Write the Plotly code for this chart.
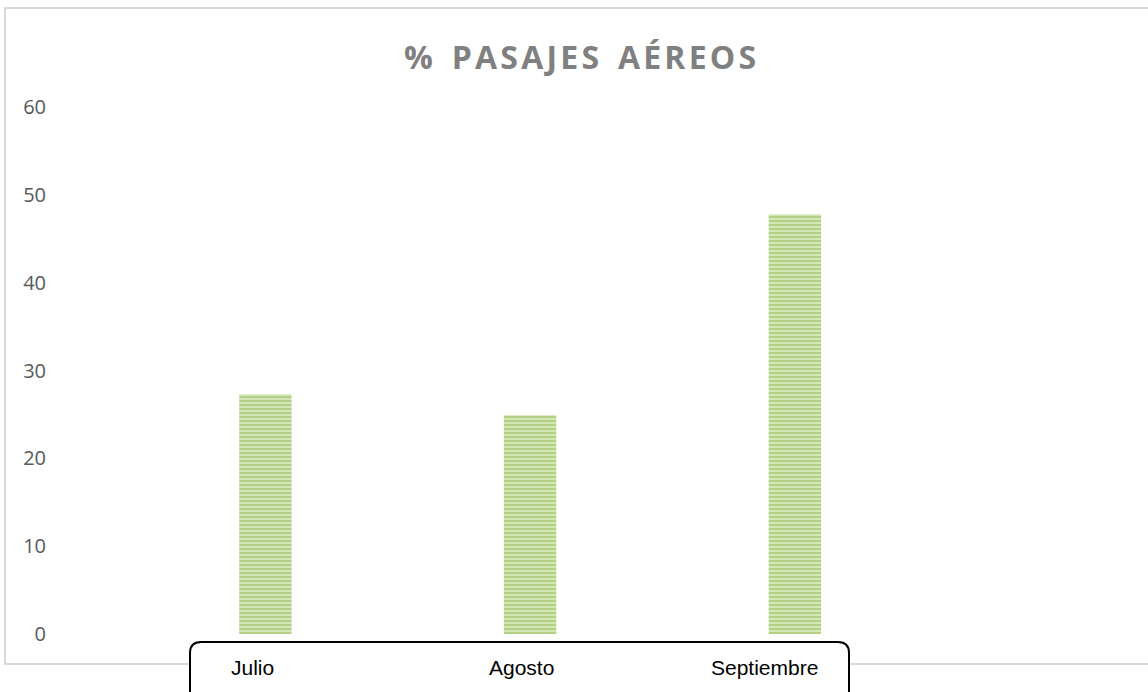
import plotly.graph_objects as go

categories = ["Julio", "Agosto", "Septiembre"]
values = [27.3, 24.9, 47.8]
y_ticks = [0, 10, 20, 30, 40, 50, 60]
title_text = "% PASAJES AÉREOS"

# horizontal offsets (px) of the category labels inside the label box
label_shifts = [-13, -9, -30]

W, H = 1148, 692
L, R, T, B = 70, 1130, 107, 634


def px(x):
    return (x - L) / (R - L)


def py(y):
    return (B - y) / (B - T)


spaced_title = "\u200a".join(list(title_text)).replace("\u200a \u200a", "\u2009 \u2009")

fig = go.Figure()
fig.add_trace(go.Bar(
    x=categories,
    y=values,
    width=0.198,
    marker=dict(
        color="#d3e6b6",
        line=dict(width=0),
        pattern=dict(shape="-", fgcolor="#90b84b", bgcolor="#d6e9bc", size=4, solidity=0.55),
    ),
    hoverinfo="skip",
))

shapes = []
# outer chart border
shapes.append(dict(type="rect", xref="paper", yref="paper",
                   x0=px(5), x1=px(1152), y0=py(664), y1=py(8),
                   line=dict(color="#d9d9d9", width=2), fillcolor="rgba(0,0,0,0)", layer="below"))
# rounded label box
x0, x1, y0, y1, r = 190, 849, 642, 720, 11
path = (
    f"M {px(x0 + r)} {py(y0)} L {px(x1 - r)} {py(y0)} "
    f"Q {px(x1)} {py(y0)} {px(x1)} {py(y0 + r)} "
    f"L {px(x1)} {py(y1 - r)} Q {px(x1)} {py(y1)} {px(x1 - r)} {py(y1)} "
    f"L {px(x0 + r)} {py(y1)} Q {px(x0)} {py(y1)} {px(x0)} {py(y1 - r)} "
    f"L {px(x0)} {py(y0 + r)} Q {px(x0)} {py(y0)} {px(x0 + r)} {py(y0)} Z"
)
shapes.append(dict(type="path", xref="paper", yref="paper", path=path,
                   line=dict(color="#000000", width=2), fillcolor="#ffffff", layer="below"))

annotations = [dict(
    text=f"<b>{spaced_title}</b>", xref="paper", yref="paper",
    x=px(580), y=py(57), xanchor="center", yanchor="middle", showarrow=False,
    font=dict(family="Open Sans", size=32, color="#808080"),
)]
for cat, sh in zip(categories, label_shifts):
    annotations.append(dict(
        text=cat, x=cat, xref="x", yref="paper", y=py(667),
        xanchor="center", yanchor="middle", xshift=sh, showarrow=False,
        font=dict(family="Liberation Sans", size=21, color="#000000"),
    ))

fig.update_layout(
    width=W, height=H,
    margin=dict(l=L, r=W - R, t=T, b=H - B, pad=0),
    paper_bgcolor="#ffffff",
    plot_bgcolor="rgba(0,0,0,0)",
    showlegend=False,
    shapes=shapes,
    annotations=annotations,
    xaxis=dict(
        range=[-0.738, 3.266], showgrid=False, zeroline=False, showline=False,
        ticks="", showticklabels=False,
    ),
    yaxis=dict(
        range=[0, 60], tickvals=y_ticks, showgrid=False, zeroline=False, showline=False,
        ticks="", tickfont=dict(family="Open Sans", size=20, color="#595959"),
        ticklabelstandoff=23,
    ),
)

fig.write_html(
    "out.html",
    config={"displayModeBar": False},
    post_script="document.body.style.margin='0px';document.body.style.overflow='hidden';",
)
